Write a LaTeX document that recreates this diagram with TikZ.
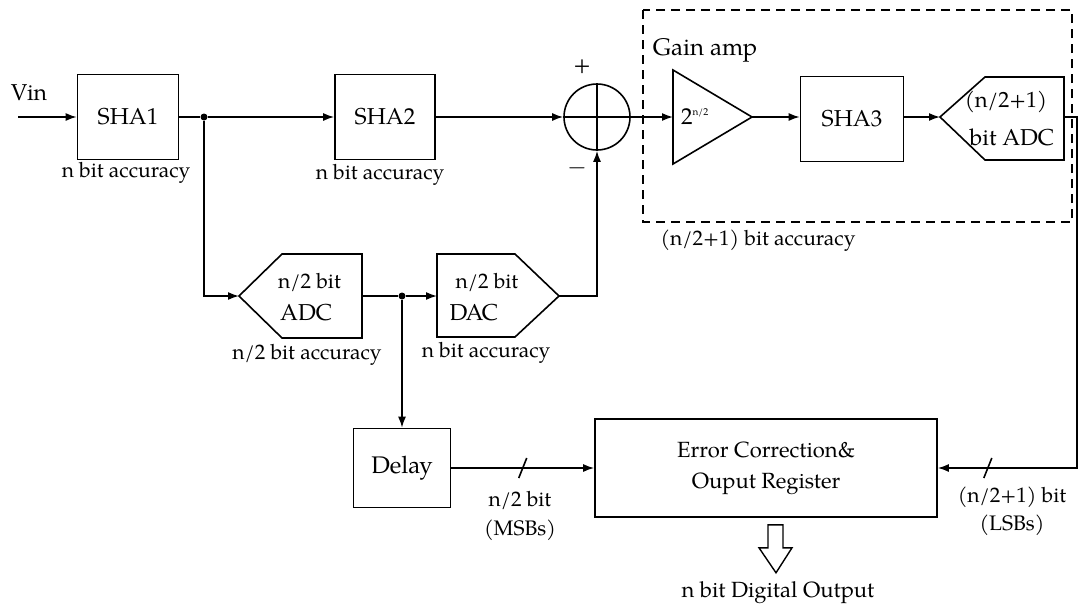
\documentclass[tikz,border=0pt]{standalone}
\usepackage{fontspec}
\setmainfont{texgyrepagella-regular.otf}
\usetikzlibrary{arrows.meta,calc}

\begin{document}
\begin{tikzpicture}[x=1pt,y=-1pt,
  wire/.style={line width=1.6pt},
  arr/.style={wire,-{Latex[length=11pt,width=8pt]}},
  blk/.style={draw,line width=1.6pt,inner sep=0pt,font=\fontsize{23}{27}\selectfont},
  big/.style={inner sep=0pt,font=\fontsize{23}{27}\selectfont},
  small/.style={inner sep=0pt,font=\fontsize{21}{24}\selectfont},
  dot/.style={circle,fill,inner sep=0pt,minimum size=7pt},
  frame/.style={line width=1.6pt,dash pattern=on 9pt off 6pt}]
\useasboundingbox (0,0) rectangle (1079,608);

% ---- main signal path ----
\node[big] (vin) at (29,93) {Vin};
\coordinate (vinstart) at (18,117);
\node[blk,minimum width=101pt,minimum height=85pt] (sha1) at (128,117) {SHA1};
\node[small] (acc1) at (126,173) {n bit accuracy};
\node[dot] (j1) at (204,117) {};
\node[blk,minimum width=100pt,minimum height=85pt] (sha2) at (385,117) {SHA2};
\node[small] (acc2) at (380,175) {n bit accuracy};

% summing junction
\node[draw,circle,line width=1.6pt,minimum size=66pt,inner sep=0pt] (sum) at (597,117) {};
\draw[wire] (sum.west) -- (sum.east) (sum.north) -- (sum.south);
\node[big] (plus) at (582,67) {+};
\node[big] (minus) at (577,168) {$-$};

% gain stage frame
\draw[frame] (643,10) rectangle (1072,222);
\node[big,font=\fontsize{24}{28}\selectfont] (gaintxt) at (705,50) {Gain amp};
\node[small] (acc5) at (758,241) {(n/2+1) bit accuracy};

% amplifier
\coordinate (ampw) at (673,117);
\coordinate (ampnw) at (673,70);
\coordinate (ampsw) at (673,164);
\coordinate (ampe) at (752,117);
\draw[wire,line join=miter] (ampnw) -- (ampe) -- (ampsw) -- cycle;
\node[big] (gain) at (695,117) {2\textsuperscript{\fontsize{10}{12}\selectfont n/2}};

\node[blk,minimum width=103pt,minimum height=85pt] (sha3) at (852,119) {SHA3};

% fine ADC
\coordinate (adcbw) at (940,117);
\coordinate (adcbnw) at (985,77);
\coordinate (adcbne) at (1064,77);
\coordinate (adcbse) at (1064,160);
\coordinate (adcbsw) at (985,160);
\coordinate (adcbe) at (1064,117);
\draw[wire] (adcbw) -- (adcbnw) -- (adcbne) -- (adcbse) -- (adcbsw) -- cycle;
\node[big,font=\fontsize{22}{26}\selectfont] (adcbt1) at (1006,102) {(n/2+1)};
\node[big] (adcbt2) at (1012,137) {bit ADC};

% ---- coarse path ----
\coordinate (adcaw) at (239,296);
\coordinate (adcanw) at (282,254);
\coordinate (adcane) at (362,254);
\coordinate (adcase) at (362,338);
\coordinate (adcasw) at (282,338);
\coordinate (adcae) at (362,296);
\draw[wire] (adcaw) -- (adcanw) -- (adcane) -- (adcase) -- (adcasw) -- cycle;
\node[big,anchor=west,font=\fontsize{21}{25}\selectfont] (adcat1) at (278,282) {n/2 bit};
\node[big,anchor=west] (adcat2) at (280,313) {ADC};
\node[small] (acc3) at (307,355) {n/2 bit accuracy};

\node[dot] (j2) at (402,296) {};

\coordinate (dacw) at (437,296);
\coordinate (dacnw) at (437,254);
\coordinate (dacne) at (515,254);
\coordinate (dace) at (559,296);
\coordinate (dacse) at (515,337);
\coordinate (dacsw) at (437,337);
\draw[wire] (dacnw) -- (dacne) -- (dace) -- (dacse) -- (dacsw) -- cycle;
\node[big,font=\fontsize{21}{25}\selectfont] (dact1) at (487,282) {n/2 bit};
\node[big] (dact2) at (474,313) {DAC};
\node[small] (acc4) at (486,353) {n bit accuracy};

% ---- digital back end ----
\node[blk,minimum width=97pt,minimum height=79pt,font=\fontsize{24}{28}\selectfont] (delay) at (402,468) {Delay};
\node[blk,minimum width=342pt,minimum height=98pt,align=center,
      font=\fontsize{22}{31}\selectfont] (err) at (766,468) {Error Correction\&\\Ouput Register};
\coordinate (rcorner) at (1077,117);

\node[small] (msb1) at (520,500) {n/2 bit};
\node[small] (msb2) at (520,530) {(MSBs)};
\node[small] (lsb1) at (1012,497) {(n/2+1) bit};
\node[small] (lsb2) at (1012,525) {(LSBs)};
\node[small,font=\fontsize{22}{26}\selectfont] (dout) at (778,593) {n bit Digital Output};

% ---- connectors ----
\draw[arr] (vinstart) -- (sha1.west);
\draw[wire] (sha1.east) -- (j1);
\draw[arr] (j1) -- (sha2.west);
\draw[arr] (sha2.east) -- (sum.west);
\draw[arr] (sum.east) -- (ampw);
\draw[arr] (ampe) -- (sha3.west |- ampe);
\draw[arr] (sha3.east |- ampe) -- (adcbw);
\draw[arr] (j1) |- (adcaw);
\draw[wire] (adcae) -- (j2);
\draw[arr] (j2) -- (dacw);
\draw[arr] (dace) -| (sum.south);
\draw[arr] (j2) -- (delay.north);
\draw[arr] (delay.east) -- (err.west);
\draw[arr] (adcbe) -- (rcorner) |- (err.east);

% bus width marks
\draw[wire] ($(delay.east)!0.5!(err.west)+(-4,10)$) -- ++(8,-20);
\draw[wire] ($(err.east)+(46,10)$) -- ++(8,-20);

% digital output arrow
\coordinate (oa) at ($(err.south)+(10,7)$);
\draw[line width=1.4pt,line join=miter]
  ($(oa)+(-8,0)$) -- ($(oa)+(7,0)$) -- ($(oa)+(7,23)$) -- ($(oa)+(16,23)$)
  -- ($(oa)+(0,48)$) -- ($(oa)+(-17,23)$) -- ($(oa)+(-8,23)$) -- cycle;
\end{tikzpicture}
\end{document}
